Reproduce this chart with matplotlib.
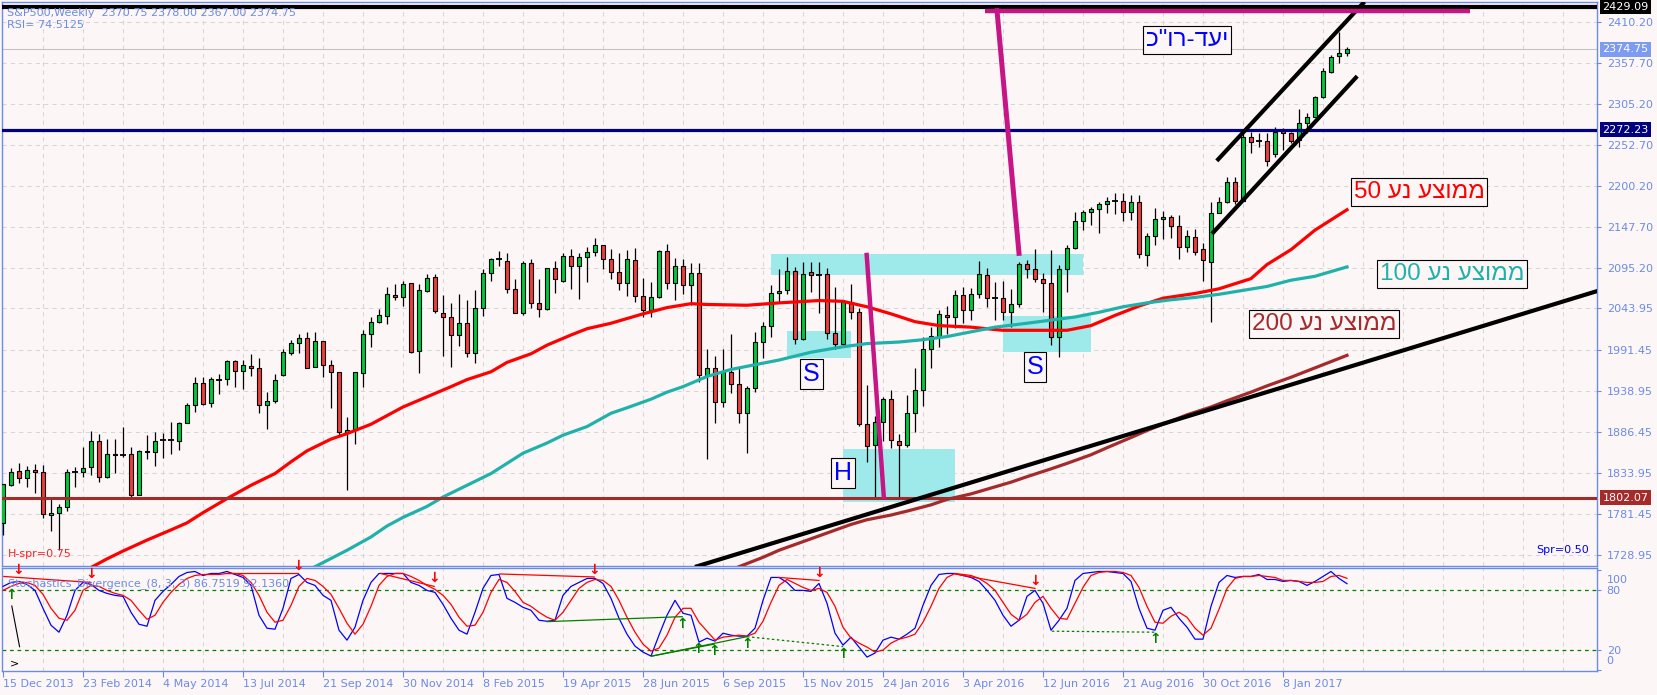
import matplotlib
matplotlib.use("Agg")
import numpy as np
import matplotlib.pyplot as plt
from matplotlib.patches import Rectangle
from matplotlib.transforms import blended_transform_factory, ScaledTranslation

# ---------------- data (S&P500 weekly, bar 0 = week of 15 Dec 2013) ----------------
date_ticks = [0, 10, 20, 30, 40, 50, 60, 70, 80, 90, 100, 110, 120, 130, 140, 150, 160]
date_labels = ["15 Dec 2013", "23 Feb 2014", "4 May 2014", "13 Jul 2014", "21 Sep 2014",
               "30 Nov 2014", "8 Feb 2015", "19 Apr 2015", "28 Jun 2015", "6 Sep 2015",
               "15 Nov 2015", "24 Jan 2016", "3 Apr 2016", "12 Jun 2016", "21 Aug 2016",
               "30 Oct 2016", "8 Jan 2017"]

opens = [1769.3, 1818.3, 1836.2, 1826.8, 1837.5, 1834.5, 1779.6, 1782.1, 1790.6, 1834.5,
         1834.5, 1841.7, 1874.1, 1829.0, 1857.0, 1856.0, 1857.5, 1805.5, 1861.0, 1860.0,
         1875.0, 1875.0, 1875.0, 1897.1, 1920.5, 1948.2, 1922.6, 1952.5, 1953.3, 1976.3,
         1963.9, 1970.3, 1967.4, 1920.5, 1926.1, 1958.8, 1986.5, 1999.3, 2005.7, 1968.6,
         2001.9, 1971.2, 1962.3, 1885.6, 1889.0, 1961.0, 2010.8, 2026.1, 2034.2, 2060.6,
         2058.0, 2076.0, 1989.9, 2066.1, 2084.5, 2038.5, 2032.5, 2009.9, 2025.7, 1986.5,
         2044.0, 2088.7, 2106.6, 2104.9, 2068.3, 2037.6, 2101.5, 2050.4, 2042.7, 2095.1,
         2079.4, 2111.3, 2098.5, 2109.2, 2116.4, 2125.0, 2106.6, 2090.9, 2076.0, 2105.8,
         2060.2, 2041.9, 2059.0, 2117.7, 2076.0, 2098.6, 2073.4, 2088.8, 1958.5, 1967.4,
         1924.8, 1963.1, 1947.0, 1909.9, 1941.9, 2001.5, 2021.9, 2063.2, 2067.5, 2092.2,
         2004.5, 2090.9, 2087.5, 2087.5, 2012.1, 1998.5, 2051.7, 2039.8, 1896.3, 1869.4,
         1899.3, 1927.8, 1875.0, 1869.4, 1909.9, 1939.7, 1992.1, 2008.7, 2035.5, 2032.5,
         2061.1, 2041.9, 2062.3, 2086.6, 2056.8, 2056.8, 2039.8, 2049.6, 2100.2, 2094.3,
         2081.1, 2076.0, 2007.0, 2093.9, 2120.7, 2155.6, 2166.7, 2170.5, 2176.9, 2180.3,
         2181.1, 2166.7, 2179.4, 2112.2, 2136.9, 2157.7, 2160.3, 2149.6, 2121.9, 2135.6,
         2119.4, 2103.6, 2166.2, 2179.4, 2205.8, 2181.1, 2263.3, 2256.9, 2258.2, 2240.7,
         2270.6, 2267.6, 2259.1, 2281.2, 2288.9, 2313.6, 2346.3, 2366.4, 2370.75]
highs = [1820.0, 1839.6, 1846.0, 1842.6, 1844.7, 1843.9, 1801.3, 1794.0, 1838.3, 1841.7,
         1867.3, 1887.3, 1883.0, 1877.1, 1876.7, 1892.0, 1866.4, 1863.0, 1882.2, 1885.6,
         1884.3, 1899.2, 1899.2, 1922.6, 1956.7, 1956.7, 1956.7, 1959.7, 1978.0, 1977.5,
         1978.0, 1985.2, 1980.1, 1936.7, 1959.7, 1992.1, 2003.6, 2010.8, 2013.3, 2013.8,
         2002.5, 1978.0, 1963.0, 1905.6, 1962.5, 2016.3, 2033.4, 2042.7, 2070.8, 2075.1,
         2078.9, 2076.5, 2074.7, 2087.4, 2087.4, 2060.6, 2050.4, 2061.9, 2054.7, 2067.4,
         2093.8, 2107.9, 2117.2, 2114.3, 2081.1, 2104.9, 2106.6, 2081.5, 2096.0, 2104.5,
         2115.1, 2119.4, 2114.3, 2122.8, 2133.5, 2125.5, 2119.4, 2114.3, 2118.6, 2120.7,
         2082.4, 2077.7, 2118.6, 2126.2, 2107.9, 2106.6, 2101.5, 2102.4, 1991.7, 1983.2,
         1991.7, 2010.8, 1968.2, 1945.3, 2014.2, 2026.2, 2073.9, 2093.9, 2110.1, 2097.3,
         2103.7, 2103.7, 2103.7, 2095.2, 2071.7, 2052.0, 2075.1, 2044.1, 1946.1, 1906.9,
         1931.2, 1939.7, 1883.5, 1933.3, 1967.4, 2007.8, 2020.6, 2041.9, 2047.0, 2067.5,
         2071.7, 2069.6, 2104.5, 2095.2, 2078.1, 2079.0, 2068.3, 2103.7, 2105.8, 2119.8,
         2088.7, 2118.5, 2099.4, 2124.9, 2167.5, 2169.7, 2173.9, 2179.4, 2186.7, 2190.9,
         2191.8, 2188.8, 2188.8, 2139.8, 2171.8, 2168.4, 2163.2, 2163.2, 2144.1, 2144.9,
         2127.0, 2180.3, 2186.7, 2212.2, 2212.2, 2267.6, 2269.7, 2268.4, 2268.4, 2275.2,
         2274.0, 2269.7, 2298.2, 2293.1, 2315.7, 2350.6, 2367.6, 2397.4, 2378.0]
lows = [1754.4, 1817.0, 1820.5, 1816.2, 1808.5, 1775.7, 1760.0, 1735.3, 1785.5, 1816.2,
        1829.0, 1831.1, 1822.6, 1827.0, 1833.2, 1854.5, 1803.4, 1805.0, 1851.5, 1842.6,
        1852.4, 1857.9, 1863.0, 1897.0, 1912.0, 1920.5, 1918.4, 1934.6, 1946.1, 1943.9,
        1941.4, 1958.0, 1909.9, 1889.4, 1922.6, 1958.0, 1984.4, 1987.4, 1967.4, 1968.6,
        1955.9, 1917.1, 1880.9, 1812.0, 1870.7, 1944.0, 1994.2, 2024.8, 2024.0, 2054.7,
        2047.0, 1987.4, 1961.0, 2065.0, 2038.5, 1983.5, 1969.5, 1996.3, 1981.4, 1973.7,
        2034.2, 2078.9, 2098.5, 2064.0, 2037.6, 2035.5, 2044.0, 2032.5, 2042.0, 2063.2,
        2078.1, 2068.7, 2055.9, 2078.1, 2111.3, 2094.3, 2081.5, 2067.5, 2059.8, 2052.6,
        2033.4, 2033.4, 2056.8, 2068.8, 2054.7, 2061.9, 2048.3, 1949.5, 1851.2, 1898.0,
        1918.4, 1935.5, 1897.2, 1859.7, 1936.8, 1981.0, 2007.0, 2050.4, 2062.4, 1998.5,
        2004.0, 2065.3, 2038.5, 2004.5, 1991.7, 1994.2, 2030.4, 1893.7, 1848.2, 1801.3,
        1875.0, 1865.2, 1801.3, 1867.3, 1886.5, 1919.3, 1967.4, 1994.2, 2011.3, 2018.5,
        2024.9, 2029.1, 2057.7, 2045.3, 2029.1, 2029.1, 2020.6, 2046.2, 2082.4, 2078.1,
        2039.8, 1997.2, 1981.4, 2065.3, 2120.0, 2144.1, 2150.5, 2140.7, 2165.4, 2164.5,
        2155.6, 2156.9, 2107.9, 2098.5, 2124.9, 2132.2, 2134.3, 2106.6, 2115.6, 2112.2,
        2078.9, 2027.0, 2165.4, 2178.1, 2176.9, 2181.0, 2242.0, 2250.5, 2225.8, 2237.8,
        2246.3, 2254.8, 2250.5, 2267.6, 2288.0, 2312.3, 2345.1, 2357.0, 2367.0]
closes = [1819.2, 1835.4, 1826.8, 1837.5, 1834.5, 1780.8, 1782.1, 1790.6, 1834.5, 1835.0,
          1840.5, 1874.1, 1829.0, 1857.5, 1858.0, 1856.5, 1805.5, 1861.8, 1861.8, 1874.1,
          1875.5, 1875.5, 1897.1, 1920.5, 1948.2, 1921.8, 1953.3, 1953.0, 1976.3, 1963.9,
          1971.2, 1967.4, 1920.5, 1926.1, 1952.5, 1987.8, 1999.3, 2005.7, 1968.2, 2001.9,
          1971.2, 1962.3, 1885.6, 1889.0, 1962.3, 2010.8, 2026.1, 2035.1, 2061.9, 2058.0,
          2074.7, 1988.6, 2067.0, 2083.2, 2040.6, 2032.5, 2009.9, 2025.7, 1986.5, 2044.0,
          2088.7, 2106.6, 2107.0, 2068.3, 2038.5, 2101.5, 2050.4, 2042.7, 2095.1, 2081.1,
          2111.3, 2098.5, 2109.2, 2116.4, 2125.0, 2106.6, 2090.9, 2076.0, 2106.6, 2059.8,
          2041.9, 2059.0, 2117.7, 2076.0, 2098.6, 2073.4, 2088.8, 1958.5, 1967.4, 1924.8,
          1963.1, 1947.0, 1909.9, 1941.9, 2001.5, 2021.9, 2063.2, 2066.6, 2092.2, 2004.5,
          2087.9, 2086.6, 2087.0, 2012.1, 1998.5, 2051.7, 2039.8, 1895.9, 1868.6, 1899.3,
          1927.8, 1875.8, 1869.4, 1909.9, 1939.7, 1992.1, 2008.7, 2036.8, 2032.5, 2061.1,
          2041.9, 2062.3, 2087.9, 2056.8, 2057.2, 2039.8, 2049.6, 2100.2, 2093.9, 2081.1,
          2076.0, 2007.0, 2093.9, 2120.7, 2155.6, 2166.7, 2170.5, 2176.9, 2181.1, 2180.6,
          2166.7, 2179.4, 2113.0, 2136.9, 2157.7, 2161.1, 2149.6, 2121.9, 2136.8, 2116.4,
          2105.8, 2166.2, 2179.4, 2205.8, 2181.1, 2263.3, 2256.9, 2257.3, 2232.7, 2269.7,
          2267.6, 2258.2, 2281.2, 2288.9, 2314.4, 2347.2, 2365.5, 2369.8, 2374.75]

# moving averages (bar index, value)
ma50_bars = [11, 13, 15, 18, 21, 23, 25, 28, 31, 34, 36, 38, 41, 43, 46, 48, 50, 53, 56, 58,
             61, 63, 66, 68, 71, 73, 76, 78, 80, 83, 86, 88, 93, 97, 102, 105, 108, 111, 114,
             117, 121, 125, 129, 133, 136, 139, 142, 145, 149, 152, 156, 158, 161, 164, 168]
ma50_vals = [1713, 1724, 1734, 1748, 1761, 1770, 1783, 1801, 1818, 1833, 1848, 1862, 1877, 1884,
             1896, 1907, 1918, 1931, 1944, 1953, 1963, 1975, 1986, 1997, 2010, 2018, 2025, 2031,
             2037, 2045, 2050, 2049, 2048, 2051, 2054, 2053, 2046, 2037, 2027, 2022, 2020, 2016,
             2016, 2016, 2022, 2035, 2047, 2057, 2063, 2069, 2082, 2100, 2119, 2144, 2170]
ma100_bars = [39, 43, 46, 48, 50, 53, 55, 58, 61, 63, 65, 68, 70, 73, 76, 78, 81, 83, 85, 88,
              91, 93, 97, 101, 105, 108, 112, 115, 118, 121, 124, 128, 131, 134, 137, 140, 143,
              146, 149, 152, 155, 158, 161, 164, 168]
ma100_vals = [1714, 1735, 1752, 1766, 1777, 1791, 1803, 1818, 1833, 1846, 1859, 1872, 1882, 1893,
              1910, 1917, 1928, 1937, 1944, 1957, 1966, 1970, 1978, 1988, 1995, 1999, 2001, 2004,
              2008, 2014, 2020, 2025, 2029, 2033, 2039, 2046, 2051, 2055, 2058, 2062, 2067, 2072,
              2080, 2085, 2097]
ma200_bars = [92, 95, 97, 100, 103, 106, 108, 111, 113, 116, 118, 121, 123, 126, 128, 131, 133,
              136, 138, 141, 143, 146, 148, 151, 153, 156, 158, 161, 163, 166, 168]
ma200_vals = [1714, 1726, 1735, 1746, 1757, 1768, 1774, 1780, 1785, 1793, 1800, 1807, 1813, 1822,
              1829, 1839, 1846, 1857, 1866, 1879, 1888, 1900, 1908, 1918, 1926, 1937, 1945, 1956,
              1964, 1976, 1984]

# stochastic (8,3,3): main (blue) and signal (red)
stoch_k = [84, 88, 89, 86, 80, 62, 45, 38, 55, 80,
           88, 86, 80, 77, 75, 74, 58, 46, 44, 70,
           79, 86, 94, 98, 99, 95, 97, 97, 99, 96,
           93, 85, 55, 42, 41, 62, 92, 96, 88, 85,
           75, 70, 40, 30, 43, 70, 88, 97, 97, 97,
           97, 88, 85, 80, 78, 66, 52, 40, 36, 58,
           82, 95, 96, 72, 68, 63, 60, 50, 49, 50,
           75, 84, 88, 92, 92, 87, 72, 52, 36, 24,
           18, 14, 35, 55, 70, 57, 55, 28, 32, 29,
           37, 35, 34, 34, 42, 70, 93, 93, 88, 80,
           80, 79, 87, 67, 37, 25, 33, 23, 13, 17,
           30, 33, 31, 36, 42, 65, 85, 96, 97, 97,
           95, 93, 89, 80, 70, 55, 44, 50, 74, 80,
           67, 40, 50, 62, 90, 97, 98, 99, 99, 98,
           97, 89, 62, 42, 40, 60, 63, 52, 43, 31,
           31, 64, 88, 95, 93, 94, 94, 96, 91, 91,
           89, 90, 89, 85, 89, 94, 99, 92, 86.75]
stoch_d = [80, 84, 87, 88, 85, 76, 62, 52, 50, 60,
           80, 85, 84, 80, 77, 75, 70, 60, 51, 55,
           68, 78, 86, 92, 95, 96, 96, 96, 97, 97,
           95, 88, 75, 58, 48, 50, 65, 84, 92, 90,
           84, 76, 62, 47, 36, 46, 64, 85, 94, 97,
           97, 94, 90, 85, 81, 75, 66, 53, 44, 45,
           58, 78, 91, 88, 79, 68, 64, 58, 53, 50,
           58, 70, 82, 88, 91, 90, 84, 70, 53, 38,
           26, 19, 22, 35, 53, 62, 62, 48, 39, 30,
           33, 34, 35, 34, 37, 49, 68, 85, 91, 87,
           83, 80, 82, 78, 64, 43, 32, 27, 23, 18,
           20, 27, 31, 33, 36, 48, 64, 82, 93, 97,
           96, 95, 92, 87, 80, 68, 56, 50, 56, 68,
           74, 62, 52, 51, 67, 83, 95, 98, 99, 99,
           98, 95, 83, 64, 48, 47, 54, 58, 53, 42,
           35, 42, 61, 82, 92, 94, 94, 95, 94, 93,
           90, 90, 89, 88, 88, 89, 94, 95, 92.14]

# divergence markers of the indicator
div_red_lines = [((0.1, 94), (11, 88)), ((28, 97.8), (36.9, 97.8)), ((47.2, 97), (53.9, 84)),
                 ((62.1, 96.5), (73.9, 93.5)), ((97, 93), (102, 90)), ((119, 96.5), (129, 82))]
div_green_lines = [((68, 48.6), (84.9, 53.6)), ((81.1, 14), (88.9, 26)), ((81.1, 14), (93, 33.5))]
div_green_dotted = [((93, 33.5), (105, 23.5)), ((131.1, 39), (144, 38))]
arrows_down = [(1.9, 94), (11, 89), (36.9, 98), (53.9, 85), (73.9, 94), (102, 90), (129, 82)]
arrows_up = [(1, 82), (84.9, 53.6), (86.9, 28), (88.9, 26), (93, 33.5), (105, 23.5), (144, 38)]

price_ticks = [2410.20, 2357.70, 2305.20, 2252.70, 2200.20, 2147.70, 2095.20, 2043.95,
               1991.45, 1938.95, 1886.45, 1833.95, 1781.45, 1728.95]

# ---------------- style ----------------
BG = "#FDF6F6"
AXC = "#6A8CE6"
GRID = "#D6D6D6"
GREEN = "#00C83C"
RED = "#F03C3C"
HEB = ["Liberation Sans", "DejaVu Sans"]


def visual_rtl(s):
    # matplotlib has no bidi support: put the Hebrew words in display order
    out = []
    for w in reversed(s.split(" ")):
        if any("\u0590" <= ch <= "\u05ff" for ch in w):
            w = w[::-1]
        out.append(w)
    return " ".join(out)


W, H = 1658, 695
fig = plt.figure(figsize=(W / 100, H / 100), dpi=100)
fig.patch.set_facecolor(BG)

ax = fig.add_axes([2.5 / W, 1 - 566 / H, (1597 - 2.5) / W, (566 - 2.3) / H])
axs = fig.add_axes([2.5 / W, 1 - 670.7 / H, (1597 - 2.5) / W, (670.7 - 568.3) / H])

for a in (ax, axs):
    a.set_facecolor(BG)
    a.set_xlim(-0.0625, 199.25)
    for sp in a.spines.values():
        sp.set_color(AXC)
        sp.set_linewidth(1)
    for b in range(5, 200, 5):
        a.axvline(b, color=GRID, lw=0.75, ls=(0, (4, 4)), zorder=0)

ax.set_ylim(1714.9, 2435.0)
axs.set_ylim(-0.7, 102.2)

# ---- main panel ----
for p in price_ticks:
    ax.axhline(p, color=GRID, lw=0.75, ls=(0, (4, 4)), zorder=0)

ax.yaxis.tick_right()
ax.set_yticks(price_ticks)
ax.set_yticklabels([f"{p:.2f}" for p in price_ticks])
ax.tick_params(axis="y", colors=AXC, labelcolor=AXC, labelsize=8, length=3, pad=4)
ax.tick_params(axis="x", bottom=False, labelbottom=False)

# cyan zones of the head & shoulders
zones = [(96.0, 2086.5, 135.0, 2113.3), (98.0, 1981.0, 105.96, 2015.1),
         (105.0, 1797.0, 119.0, 1864.0), (125.0, 1988.6, 136.0, 2034.2)]
for x0, y0, x1, y1 in zones:
    ax.add_patch(Rectangle((x0, y0), x1 - x0, y1 - y0, fc="#9EEAEA", ec="none", zorder=1))

# candles
x = np.arange(len(closes))
o = np.array(opens)
c = np.array(closes)
ax.vlines(x, lows, highs, color="black", lw=0.9, zorder=3)
up = c > o + 0.6
dn = c < o - 0.6
doji = ~(up | dn)
ax.bar(x[up], (c - o)[up], bottom=o[up], width=0.62, color=GREEN, edgecolor="black", lw=0.8, zorder=4)
ax.bar(x[dn], (o - c)[dn], bottom=c[dn], width=0.62, color=RED, edgecolor="black", lw=0.8, zorder=4)
ax.hlines(c[doji], x[doji] - 0.33, x[doji] + 0.33, color="black", lw=1.3, zorder=4)

# moving averages
ax.plot(ma50_bars, ma50_vals, color="#FF0000", lw=2.3, zorder=5)
ax.plot(ma100_bars, ma100_vals, color="#20B2AA", lw=2.3, zorder=5)
ax.plot(ma200_bars, ma200_vals, color="#A52A2A", lw=2.3, zorder=5)

# horizontal levels
ax.axhline(2374.75, color="#C4C4C4", lw=0.8, zorder=2)
ax.axhline(2429.09, color="black", lw=3, zorder=6)
ax.axhline(2272.23, color="#000080", lw=2.3, zorder=6)
ax.axhline(1802.07, color="#A52A2A", lw=2.2, zorder=6)

# trend lines
ax.plot([86.5, 199.3], [1713.7, 2066.2], color="black", lw=3, zorder=6, solid_capstyle="butt")
ax.plot([151.9, 170.0], [2234.4, 2433.7], color="black", lw=3, zorder=6)
ax.plot([151.3, 169.1], [2141.2, 2338.7], color="black", lw=3, zorder=6)

# magenta target lines
MAG = "#C71585"
ax.plot([122.75, 183.4], [2424.3, 2424.3], color=MAG, lw=3.2, zorder=6, solid_capstyle="butt")
ax.plot([124.25, 127.0], [2424.4, 2114.3], color=MAG, lw=3.6, zorder=6)
ax.plot([107.96, 110.1], [2112.2, 1803.4], color=MAG, lw=3.2, zorder=6)


# text boxes
def box_text(xb, yb, s, color, size):
    ax.text(xb, yb, s, color=color, fontsize=size, family=HEB, ha="center", va="center",
            zorder=8, bbox=dict(boxstyle="square,pad=0.12", fc=BG, ec="black", lw=0.8))


box_text(177.0, 2192.4, visual_rtl("ממוצע נע 50"), "#FF0000", 17.5)
box_text(181.1, 2087.5, visual_rtl("ממוצע נע 100"), "#20B2AA", 17.5)
box_text(165.1, 2024.0, visual_rtl("ממוצע נע 200"), "#A52A2A", 17.5)
box_text(148.0, 2386.6, visual_rtl('יעד-רו"כ'), "#0000FF", 17.5)
box_text(101.06, 1959.9, "S", "#0000FF", 18)
box_text(129.0, 1968.8, "S", "#0000FF", 18)
box_text(105.0, 1833.3, "H", "#0000FF", 18)

ax.text(0.0028, 0.981, "S&P500,Weekly  2370.75 2378.00 2367.00 2374.75", transform=ax.transAxes,
        color=AXC, fontsize=8, va="center", ha="left", zorder=9)
ax.text(0.0028, 0.960, "RSI= 74.5125", transform=ax.transAxes, color=AXC, fontsize=8,
        va="center", ha="left", zorder=9)
ax.text(0.0036, 0.021, "H-spr=0.75", transform=ax.transAxes, color="#FF2020", fontsize=8,
        va="center", ha="left", zorder=9)
ax.text(0.995, 0.028, "Spr=0.50", transform=ax.transAxes, color="#0000FF", fontsize=8,
        va="center", ha="right", zorder=9)

# highlighted price labels on the axis
tr = blended_transform_factory(ax.transAxes, ax.transData)
for val, fc in [(2429.09, "black"), (2374.75, "#7D9BF0"), (2272.23, "#000080"), (1802.07, "#A52A2A")]:
    ax.text(1.0035, val, f"{val:.2f}", transform=tr, color="white", fontsize=8, ha="left",
            va="center", clip_on=False, zorder=10,
            bbox=dict(boxstyle="square,pad=0.22", fc=fc, ec="none"))

# ---- stochastic panel ----
axs.axhline(80, color="#008000", lw=0.9, ls=(0, (3, 3)), zorder=1)
axs.axhline(20, color="#008000", lw=0.9, ls=(0, (3, 3)), zorder=1)
axs.plot(x, stoch_k, color="#0000FF", lw=0.9, zorder=3)
axs.plot(x, stoch_d, color="#FF0000", lw=0.9, zorder=3)
for (x0, y0), (x1, y1) in div_red_lines:
    axs.plot([x0, x1], [y0, y1], color="#FF0000", lw=0.9, zorder=4)
for (x0, y0), (x1, y1) in div_green_lines:
    axs.plot([x0, x1], [y0, y1], color="#008000", lw=0.9, zorder=4)
for (x0, y0), (x1, y1) in div_green_dotted:
    axs.plot([x0, x1], [y0, y1], color="#008000", lw=0.9, ls=(0, (2, 2)), zorder=4)
for xa, ya in arrows_down:
    axs.text(xa, ya, "↓", color="#FF0000", fontsize=10, fontweight="bold", ha="center",
             va="bottom", zorder=5)
for xa, ya in arrows_up:
    axs.text(xa, ya, "↑", color="#008000", fontsize=10, fontweight="bold", ha="center",
             va="top", zorder=5)
axs.plot([1.1, 2.07], [64.3, 23.4], color="black", lw=0.8, zorder=5)
axs.text(1.4, 6.7, ">", color="black", fontsize=8, ha="center", va="center", zorder=5)

axs.text(0.0035, 0.85, "Stochastics_Divergence_(8, 3, 3) 86.7519 92.1360", transform=axs.transAxes,
         color=AXC, fontsize=8, va="center", ha="left", zorder=6)

axs.yaxis.tick_right()
axs.set_yticks([0, 20, 80, 100])
axs.set_yticklabels(["0", "20", "80", "100"])
axs.tick_params(axis="y", colors=AXC, labelcolor=AXC, labelsize=8, length=3, pad=4)
# edge labels sit inside the panel, like the terminal draws them
shift = {"0": 7, "100": -6}
for lbl in axs.get_yticklabels():
    dy = shift.get(lbl.get_text(), 0)
    if dy:
        lbl.set_transform(lbl.get_transform() + ScaledTranslation(0, dy / 72, fig.dpi_scale_trans))

axs.set_xticks(date_ticks)
axs.set_xticklabels(date_labels)
axs.tick_params(axis="x", colors=AXC, labelcolor=AXC, labelsize=8, length=4, pad=2)
for lbl in axs.get_xticklabels():
    lbl.set_ha("left")

fig.savefig("out.png", dpi=100, facecolor=BG)
